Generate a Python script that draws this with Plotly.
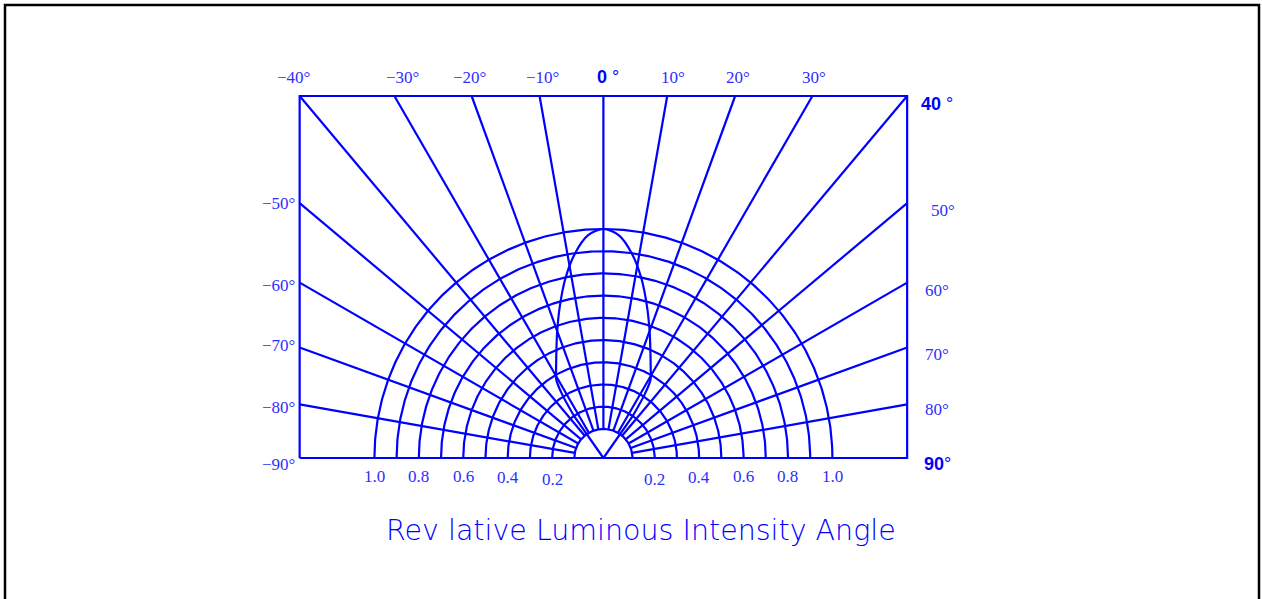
import numpy as np
import plotly.graph_objects as go

# ---------------- data ----------------
RING_LEVELS = [0.1, 0.2, 0.3, 0.4, 0.5, 0.6, 0.7, 0.8, 0.9, 1.0]
RING_LABEL_LEVELS = [0.2, 0.4, 0.6, 0.8, 1.0]
RING_LABELS = ["0.2", "0.4", "0.6", "0.8", "1.0"]
SPOKE_ANGLES = [-80, -70, -60, -50, -40, -30, -20, -10, 0, 10, 20, 30, 40, 50, 60, 70, 80]
TOP_LABEL_ANGLES = [-40, -30, -20, -10, 0, 10, 20, 30]
TOP_LABELS = ["−40°", "−30°", "−20°", "−10°", "<b>0</b> °", "10°", "20°", "30°"]
LEFT_LABEL_ANGLES = [-50, -60, -70, -80, -90]
LEFT_LABELS = ["−50°", "−60°", "−70°", "−80°", "−90°"]
RIGHT_LABEL_ANGLES = [40, 50, 60, 70, 80, 90]
RIGHT_LABELS = ["<b>40</b> °", "50°", "60°", "70°", "80°", "<b>90</b>°"]
LOBE_ANGLES = [-35.5, -35, -33, -31, -28, -24, -20, -16, -12, -8, -4, 0,
               4, 8, 12, 16, 20, 24, 28, 31, 33, 35, 35.5]
LOBE_VALUES = [0.0, 0.22, 0.33, 0.40, 0.44, 0.505, 0.59, 0.69, 0.80, 0.90, 0.975, 1.0,
               0.975, 0.90, 0.80, 0.69, 0.59, 0.505, 0.44, 0.40, 0.33, 0.22, 0.0]
TITLE = "Rev lative Luminous Intensity Angle"

# ---------------- layout constants ----------------
FIG_W, FIG_H = 1262, 599
PX_PER_UNIT = 229.0
ORIGIN_PX = (603.4, 458.0)
BOX_H = 362.0 / PX_PER_UNIT
BOX_W = BOX_H * np.tan(np.radians(40))
RING_OFFSET = 0.03
BLUE = "#0000ff"
TXT = "rgb(45,45,255)"
LW = 2.2


def ring_r(v):
    return RING_OFFSET + (1 - RING_OFFSET) * v


def edge_point(theta):
    t = np.radians(theta)
    if abs(theta) <= 40:
        return BOX_H * np.tan(t), BOX_H
    if abs(theta) >= 90:
        return np.sign(theta) * BOX_W, 0.0
    return np.sign(theta) * BOX_W, BOX_W / np.tan(abs(t))


fig = go.Figure()
common = dict(mode="lines", hoverinfo="skip", showlegend=False)

# box + baseline
bx = [-BOX_W, -BOX_W, BOX_W, BOX_W, -BOX_W]
by = [0, BOX_H, BOX_H, 0, 0]
fig.add_trace(go.Scatter(x=bx, y=by, line=dict(color=BLUE, width=LW), **common))

# rings
rx, ry = [], []
phi = np.linspace(-90, 90, 361)
for lvl in RING_LEVELS:
    r = ring_r(lvl)
    rx += list(r * np.sin(np.radians(phi))) + [None]
    ry += list(r * np.cos(np.radians(phi))) + [None]
fig.add_trace(go.Scatter(x=rx, y=ry, line=dict(color=BLUE, width=LW), **common))

# spokes
sx, sy = [], []
r0 = ring_r(RING_LEVELS[0])
for a in SPOKE_ANGLES:
    t = np.radians(a)
    ex, ey = edge_point(a)
    sx += [r0 * np.sin(t), ex, None]
    sy += [r0 * np.cos(t), ey, None]
fig.add_trace(go.Scatter(x=sx, y=sy, line=dict(color=BLUE, width=LW), **common))

# lobe: smooth upper curve + straight arms into the origin
la = np.radians(np.array(LOBE_ANGLES))
lv = np.array(LOBE_VALUES)
lx, ly = lv * np.sin(la), lv * np.cos(la)
fig.add_trace(go.Scatter(x=lx[1:-1], y=ly[1:-1],
                         line=dict(color=BLUE, width=LW, shape="spline", smoothing=0.8), **common))
fig.add_trace(go.Scatter(x=[lx[1], lx[0], None, lx[-1], lx[-2]],
                         y=[ly[1], ly[0], None, ly[-1], ly[-2]],
                         line=dict(color=BLUE, width=LW), **common))

serif = dict(family="Liberation Serif, Times New Roman, serif", size=17, color=TXT)
bold = dict(family="Liberation Sans, Arial, sans-serif", size=18, color=BLUE)
ann = []

top_nudge = [-6, 8, -2, 3, 5, 6, 3, 2]
for a, lab, nx in zip(TOP_LABEL_ANGLES, TOP_LABELS, top_nudge):
    ex, ey = edge_point(a)
    ann.append(dict(x=ex, y=ey, text=lab, showarrow=False, xshift=nx, yshift=19,
                    font=bold if "<b>" in lab else serif))

left_yn = [0, -3, 2, -3, -6]
for a, lab, ny in zip(LEFT_LABEL_ANGLES, LEFT_LABELS, left_yn):
    ex, ey = edge_point(a)
    ann.append(dict(x=ex, y=ey, text=lab, showarrow=False, xshift=-21, yshift=ny,
                    font=serif))

right_xn = [30, 36, 30, 30, 30, 30]
right_yn = [-7.5, -7, -7.4, -6.6, -4.6, -6]
for a, lab, nx, ny in zip(RIGHT_LABEL_ANGLES, RIGHT_LABELS, right_xn, right_yn):
    ex, ey = edge_point(a)
    ann.append(dict(x=ex, y=ey, text=lab, showarrow=False, xshift=nx, yshift=ny,
                    font=bold if "<b>" in lab else serif))

for side in (-1, 1):
    for lvl, lab in zip(RING_LABEL_LEVELS, RING_LABELS):
        ys = -21 if lvl == 0.2 else (-19 if lvl == 0.4 else -18)
        ann.append(dict(x=side * ring_r(lvl), y=0, text=lab, showarrow=False,
                        yshift=ys, font=serif))

ann.append(dict(x=(641 - ORIGIN_PX[0]) / PX_PER_UNIT, y=0, text=TITLE, showarrow=False,
                yshift=-72, font=dict(family="DejaVu Sans, sans-serif", size=28.5,
                                      color=BLUE, weight=200)))

x0 = -ORIGIN_PX[0] / PX_PER_UNIT
x1 = (FIG_W - ORIGIN_PX[0]) / PX_PER_UNIT
y0 = -(FIG_H - ORIGIN_PX[1]) / PX_PER_UNIT
y1 = ORIGIN_PX[1] / PX_PER_UNIT

fig.update_layout(
    width=FIG_W, height=FIG_H, autosize=False,
    margin=dict(l=0, r=0, t=0, b=0),
    paper_bgcolor="white", plot_bgcolor="white",
    xaxis=dict(range=[x0, x1], visible=False, fixedrange=True),
    yaxis=dict(range=[y0, y1], visible=False, fixedrange=True),
    annotations=ann,
    shapes=[dict(type="rect", xref="paper", yref="paper",
                 x0=5 / FIG_W, x1=(FIG_W - 3) / FIG_W, y0=-0.2, y1=1 - 5 / FIG_H,
                 line=dict(color="black", width=2.5))],
    showlegend=False,
)

fig.write_html("out.html", config={"displayModeBar": False},
               post_script="document.body.style.margin='0px';document.body.style.overflow='hidden';")
